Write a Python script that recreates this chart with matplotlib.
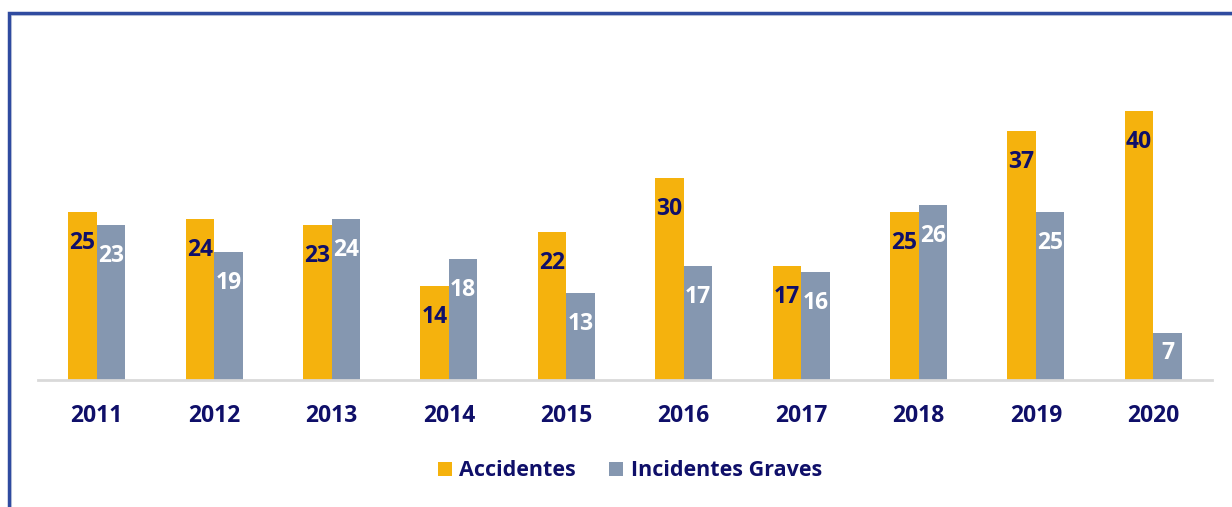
import matplotlib
matplotlib.use("Agg")
import matplotlib.pyplot as plt
from matplotlib.patches import Rectangle
import numpy as np

years = ["2011", "2012", "2013", "2014", "2015", "2016", "2017", "2018", "2019", "2020"]
accidentes = [25, 24, 23, 14, 22, 30, 17, 25, 37, 40]
incidentes = [23, 19, 24, 18, 13, 17, 16, 26, 25, 7]

plt.rcParams["font.family"] = ["Open Sans", "DejaVu Sans"]

C_ACC = "#F5B20D"
C_INC = "#8597B0"
NAVY = "#0F0F69"
W, H = 1232, 507
fig = plt.figure(figsize=(W / 100, H / 100), dpi=100)

# axes placement in pixels
ax_left, ax_right = 38, 1212
ax_bottom = 380
ymax = 45
px_per_unit = 6.725
ax_top = ax_bottom - ymax * px_per_unit
ax = fig.add_axes([ax_left / W, 1 - ax_bottom / H, (ax_right - ax_left) / W, (ax_bottom - ax_top) / H])

x = np.arange(len(years))
bw = 0.243
b1 = ax.bar(x - bw / 2, accidentes, bw, color=C_ACC, label="Accidentes", zorder=2)
b2 = ax.bar(x + bw / 2, incidentes, bw, color=C_INC, label="Incidentes Graves", zorder=2)

ax.set_xlim(-0.5, len(years) - 0.5)
ax.set_ylim(0, ymax)
for s in ["top", "right", "left"]:
    ax.spines[s].set_visible(False)
ax.spines["bottom"].set_color("#D9D9D9")
ax.spines["bottom"].set_linewidth(2)
ax.set_yticks([])
ax.set_xticks(x)
ax.set_xticklabels(years, fontsize=16.5, fontweight="bold", color=NAVY)
ax.tick_params(axis="x", length=0, pad=17)

off = 31 / px_per_unit
minc = 27 / px_per_unit
for xi, v in zip(x, accidentes):
    ax.text(xi - bw / 2, max(v - off, minc), str(v), ha="center", va="center",
            fontsize=16.5, fontweight="bold", color=NAVY, zorder=3)
for xi, v in zip(x, incidentes):
    ax.text(xi + bw / 2, max(v - off, minc), str(v), ha="center", va="center",
            fontsize=16.5, fontweight="bold", color="white", zorder=3)

leg = fig.legend(handles=[b1, b2], loc="center", bbox_to_anchor=(630 / W, 1 - 471 / H),
                 ncol=2, frameon=False, prop={"weight": "bold", "size": 15.5},
                 handlelength=0.65, handleheight=0.65, handletextpad=0.35, columnspacing=1.55)
for t in leg.get_texts():
    t.set_color(NAVY)

# blue border (left and top visible)
fig.patches.append(Rectangle((9 / W, -0.1), 1.2, 1.1 - 12.5 / H, transform=fig.transFigure,
                             fill=False, edgecolor="#2F4BA0", linewidth=2.5, zorder=10))
fig.patches.append(Rectangle((11 / W, -0.1), 1.2, 1.1 - 14.5 / H, transform=fig.transFigure,
                             fill=False, edgecolor="#D8DCE6", linewidth=0.8, zorder=9))

fig.savefig("out.png", dpi=100)
